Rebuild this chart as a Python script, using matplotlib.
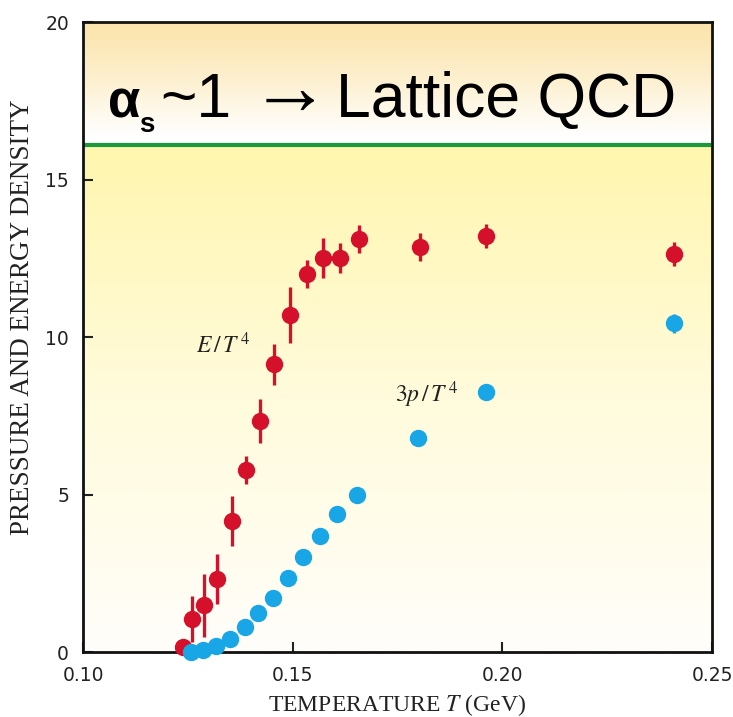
import numpy as np
import matplotlib
matplotlib.use("Agg")
from matplotlib import pyplot as plt
from matplotlib.colors import LinearSegmentedColormap

# lattice QCD points
T_energy = [0.1238, 0.1260, 0.1289, 0.1320, 0.1355, 0.1389, 0.1422, 0.1456,
            0.1494, 0.1534, 0.1572, 0.1613, 0.1658, 0.1804, 0.1961, 0.2409]
energy = [0.16, 1.05, 1.49, 2.32, 4.16, 5.78, 7.33, 9.14,
          10.70, 12.00, 12.51, 12.51, 13.11, 12.86, 13.21, 12.63]
energy_err = [0.0, 0.72, 1.0, 0.8, 0.8, 0.45, 0.7, 0.65,
              0.9, 0.45, 0.63, 0.47, 0.45, 0.45, 0.38, 0.38]

T_pressure = [0.1258, 0.1286, 0.1317, 0.1351, 0.1386, 0.1417, 0.1453, 0.1489,
              0.1525, 0.1565, 0.1606, 0.1653, 0.1799, 0.1961, 0.2409]
pressure = [0.0, 0.06, 0.19, 0.41, 0.79, 1.24, 1.71, 2.35,
            3.02, 3.68, 4.38, 4.98, 6.79, 8.25, 10.44]
pressure_err = [0, 0, 0, 0, 0, 0, 0, 0, 0, 0, 0, 0, 0, 0, 0.3]

x_ticks = [0.10, 0.15, 0.20, 0.25]
x_ticklabels = ['0.10', '0.15', '0.20', '0.25']
y_ticks = [0, 5, 10, 15, 20]
lattice_line = 16.1

red = '#d4102b'
blue = '#18a6e6'
green = '#1a9a3c'

plt.rcParams['mathtext.fontset'] = 'stix'

W, H = 733, 717
fig = plt.figure(figsize=(W / 100, H / 100), dpi=100, facecolor='white')
ax = fig.add_axes([83 / W, (H - 652) / H, (712 - 83) / W, (652 - 22) / H])

# background: yellow fading to white below the line, orange fading to white above
lower = LinearSegmentedColormap.from_list('lower', ['#fffefa', '#fffbdc', '#fff6ae'])
upper = LinearSegmentedColormap.from_list('upper', ['#ffffff', '#fdf0cf', '#fbe3aa'])
ys = np.linspace(0, 20, 800)
low_rgb = lower(np.clip(ys / lattice_line, 0, 1))[:, :3]
up_rgb = upper(np.clip((ys - lattice_line - 0.3) / (20 - lattice_line - 0.3), 0, 1))[:, :3]
bg = np.where((ys < lattice_line)[:, None], low_rgb, up_rgb)
ax.imshow(bg[:, None, :], extent=[0.10, 0.25, 0, 20], origin='lower',
          aspect='auto', zorder=0, interpolation='bilinear')

ax.axhline(lattice_line, color=green, lw=3, zorder=2)

ax.errorbar(T_energy, energy, yerr=energy_err, fmt='o', color=red, ms=11.5,
            elinewidth=2.4, capsize=0, clip_on=False, zorder=5)
ax.errorbar(T_pressure, pressure, yerr=pressure_err, fmt='o', color=blue, ms=11.5,
            elinewidth=2.4, capsize=0, clip_on=False, zorder=5)

ax.set_xlim(0.10, 0.25)
ax.set_ylim(0, 20)
ax.set_xticks(x_ticks)
ax.set_xticklabels(x_ticklabels)
ax.set_yticks(y_ticks)
ax.tick_params(direction='in', length=7, width=1.5, pad=10, labelsize=13.5,
               colors='#222222')
for s in ax.spines.values():
    s.set_linewidth(2)
    s.set_color('#111111')
    s.set_zorder(4)

serif = ['Liberation Serif', 'DejaVu Serif']
ax.set_xlabel('TEMPERATURE $T$ (GeV)', family=serif, fontsize=17, labelpad=5,
              color='#222222')
ax.set_ylabel('PRESSURE AND ENERGY DENSITY', family=serif, fontsize=19.5,
              color='#222222')
ax.yaxis.set_label_coords(-0.077, 0.532)

ax.text(0.1269, 9.49, r'$E\,/\,T^{\,4}$', fontsize=17, color='#222222', zorder=6)
ax.text(0.1744, 7.94, r'$3p\,/\,T^{\,4}$', fontsize=17, color='#222222', zorder=6)

# headline pieces
sans = ['Liberation Sans', 'DejaVu Sans']
base = 1 - 117 / H
fig.text(108 / W, base, 'α', fontsize=38, fontweight='bold', family=sans)
fig.text(139 / W, 1 - 132 / H, 's', fontsize=20, fontweight='bold', family=sans)
fig.text(160 / W, base, '~1', fontsize=45, family=sans)
fig.text(250 / W, 1 - 114 / H, '→', fontsize=58, family=sans)
fig.text(336 / W, base, 'Lattice QCD', fontsize=45, family=sans)

fig.savefig('out.png', dpi=100)
